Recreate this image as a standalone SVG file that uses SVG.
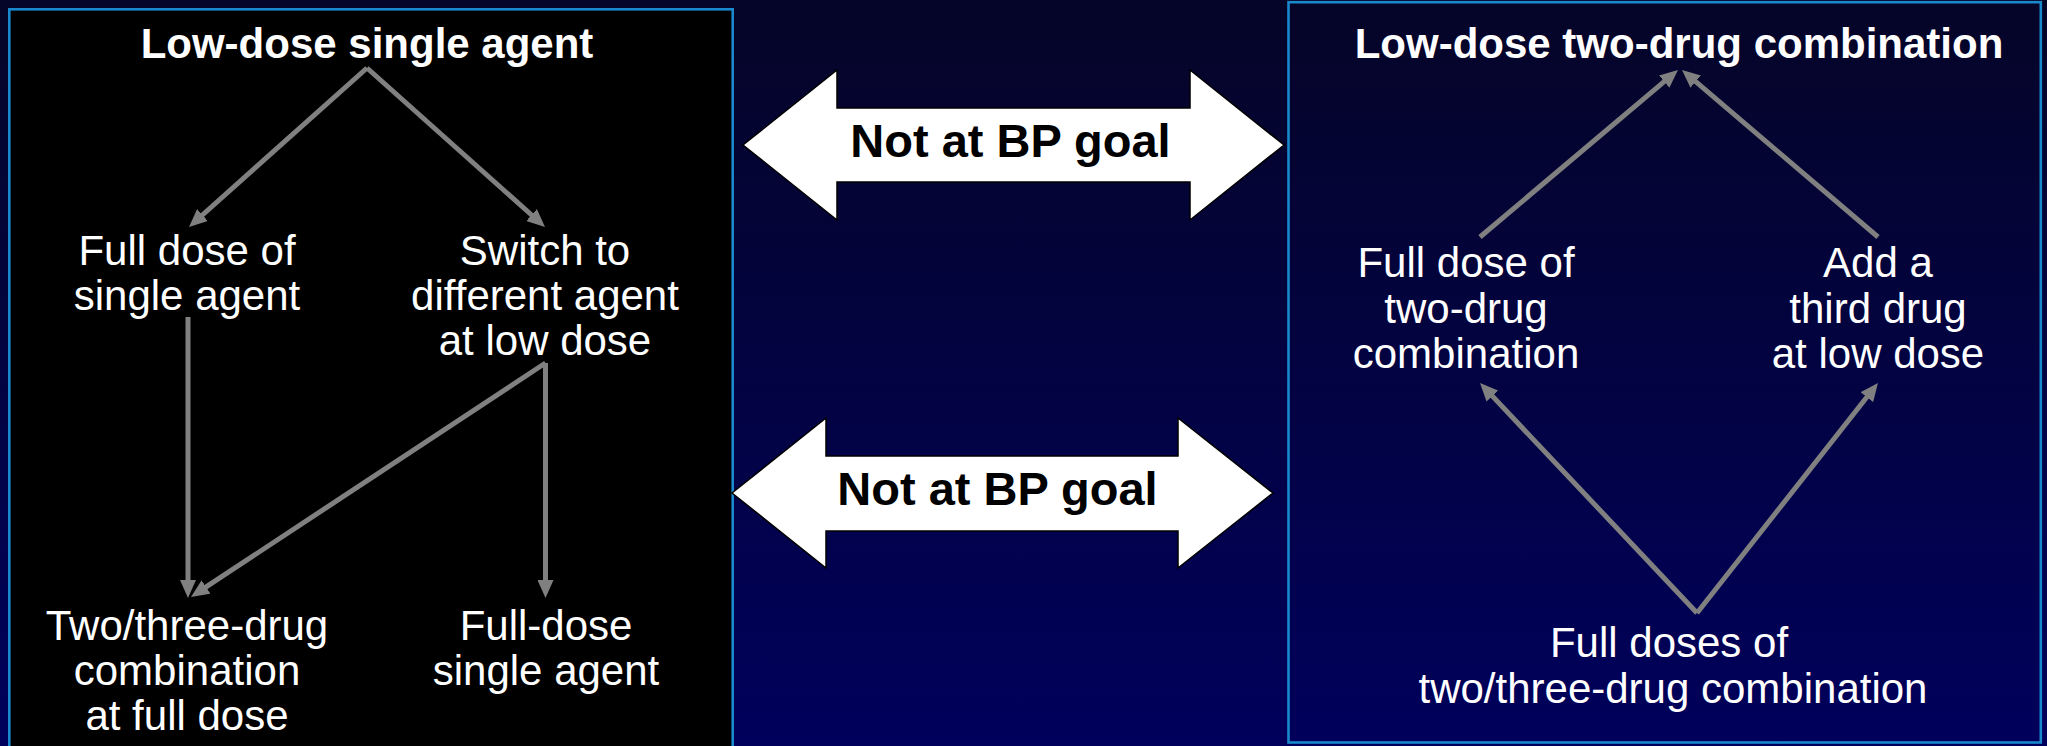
<svg xmlns="http://www.w3.org/2000/svg" width="2047" height="746" viewBox="0 0 2047 746">
  <defs>
    <linearGradient id="bg" x1="0" y1="0" x2="0" y2="1">
      <stop offset="0" stop-color="#050528"/>
      <stop offset="1" stop-color="#00005c"/>
    </linearGradient>
    <marker id="ah" markerUnits="userSpaceOnUse" markerWidth="18" markerHeight="16" refX="3" refY="8" orient="auto">
      <path d="M0,0 L18,8 L0,16 z" fill="#808080"/>
    </marker>
    <style>
      .panel { stroke: #1a88cc; stroke-width: 2.6; }
      .t { font-family: "Liberation Sans", Arial, sans-serif; font-size: 42px; fill: #ffffff; text-anchor: middle; }
      .b { font-weight: bold; }
      .goal { font-family: "Liberation Sans", Arial, sans-serif; font-size: 47px; font-weight: bold; fill: #000000; text-anchor: middle; }
      .dbl { fill: #ffffff; stroke: #000000; stroke-width: 1.5; stroke-linejoin: miter; }
      .c { stroke: #808080; stroke-width: 5; fill: none; marker-end: url(#ah); }
    </style>
  </defs>

  <!-- background -->
  <rect x="0" y="0" width="2047" height="746" fill="url(#bg)"/>

  <!-- left panel: low-dose single agent -->
  <g id="panel-single">
    <rect class="panel" x="9.3" y="9.3" width="723.4" height="760" fill="#000000"/>
  </g>

  <!-- right panel: low-dose two-drug combination -->
  <g id="panel-combo">
    <rect class="panel" x="1288.5" y="2.2" width="752.3" height="740.3" fill="none"/>
  </g>

  <g id="n-single-start">
    <text class="t b" x="367" y="58">Low-dose single agent</text>
  </g>
  <g id="n-full-single">
    <text class="t" x="187" y="265">Full dose of</text>
    <text class="t" x="187" y="310">single agent</text>
  </g>
  <g id="n-switch">
    <text class="t" x="545" y="265">Switch to</text>
    <text class="t" x="545" y="310">different agent</text>
    <text class="t" x="545" y="355">at low dose</text>
  </g>
  <g id="n-combo-full">
    <text class="t" x="187" y="640">Two/three-drug</text>
    <text class="t" x="187" y="685">combination</text>
    <text class="t" x="187" y="730">at full dose</text>
  </g>
  <g id="n-full-dose-single">
    <text class="t" x="546" y="640">Full-dose</text>
    <text class="t" x="546" y="685">single agent</text>
  </g>

  <g id="n-combo-start">
    <text class="t b" x="1679" y="58">Low-dose two-drug combination</text>
  </g>
  <g id="n-full-combo">
    <text class="t" x="1466" y="277">Full dose of</text>
    <text class="t" x="1466" y="322.5">two-drug</text>
    <text class="t" x="1466" y="368">combination</text>
  </g>
  <g id="n-third">
    <text class="t" x="1878" y="277">Add a</text>
    <text class="t" x="1878" y="322.5">third drug</text>
    <text class="t" x="1878" y="368">at low dose</text>
  </g>
  <g id="n-full-doses">
    <text class="t" x="1669" y="657">Full doses of</text>
    <text class="t" x="1673" y="703">two/three-drug combination</text>
  </g>

  <!-- "Not at BP goal" double arrows -->
  <g id="n-goal-top">
    <polygon class="dbl" points="743,145 837,70 837,108 1190,108 1190,70 1284,145 1190,220 1190,182 837,182 837,220"/>
    <text class="goal" x="1010.5" y="157">Not at BP goal</text>
  </g>
  <g id="n-goal-bottom">
    <polygon class="dbl" points="732,493 826,418 826,456 1178,456 1178,418 1273,493 1178,568 1178,531 826,531 826,568"/>
    <text class="goal" x="997.5" y="505">Not at BP goal</text>
  </g>

  <!-- connectors -->
  <g id="connectors">
    <line class="c" x1="367" y1="68" x2="200.2" y2="217"/>
    <line class="c" x1="367" y1="68" x2="533.8" y2="217"/>
    <line class="c" x1="188" y1="317" x2="188" y2="583"/>
    <line class="c" x1="545.5" y1="363" x2="545.5" y2="583"/>
    <line class="c" x1="545.5" y1="363" x2="203.5" y2="588.7"/>
    <line class="c" x1="1480" y1="237" x2="1666.5" y2="79.7"/>
    <line class="c" x1="1878" y1="237" x2="1693.4" y2="79.7"/>
    <line class="c" x1="1697" y1="613" x2="1490.3" y2="393.9"/>
    <line class="c" x1="1697" y1="613" x2="1868.7" y2="394.8"/>
  </g>
</svg>
